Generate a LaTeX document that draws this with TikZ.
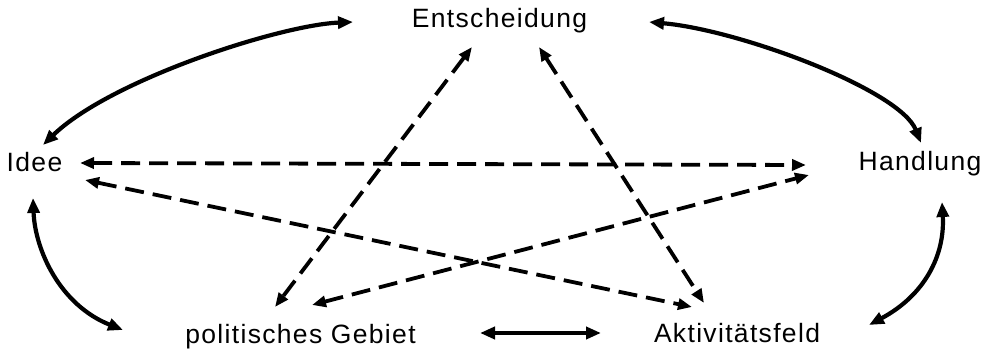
\documentclass[tikz,border=0pt]{standalone}
\usepackage{fontspec}
\setmainfont[LetterSpace=5]{Liberation Sans}
\usetikzlibrary{arrows.meta,calc}
\begin{document}
\begin{tikzpicture}[x=1pt,y=-1pt,
  lbl/.style={anchor=base,inner sep=0pt,font=\fontsize{26.5}{30}\selectfont},
  solidarr/.style={line width=4.2pt,{Triangle[length=15pt,width=12pt]}-{Triangle[length=15pt,width=12pt]}},
  dasharr/.style={line width=3.8pt,dash pattern=on 19pt off 9pt,{Triangle[length=14pt,width=11pt]}-{Triangle[length=14pt,width=11pt]}}]
\useasboundingbox (0,0) rectangle (989,350);
\node[lbl] (ent) at (499.5,28) {Entscheidung};
\node[lbl] (idee) at (34.5,172) {Idee};
\node[lbl] (hand) at (920,171) {Handlung};
\node[lbl] (pol) at (300.5,343) {politisches Gebiet};
\node[lbl] (akt) at (737,342) {Aktivitätsfeld};
% solid curved arrows
\draw[solidarr] ($(idee.base)+(8.5,-27)$) .. controls +(67,-65) and +(-73,3) .. ($(ent.base)+(-146.5,-6)$);
\draw[solidarr] ($(ent.base)+(149.5,-6)$) .. controls +(91,8) and +(-21,-53) .. ($(hand.base)+(1,-28)$);
\draw[solidarr] ($(idee.base)+(-1.5,26)$) .. controls +(2,52) and +(-63,-25) .. ($(pol.base)+(-177.5,-13)$);
\draw[solidarr] ($(hand.base)+(22,31)$) .. controls +(3,53) and +(56,-30) .. ($(akt.base)+(132,-17)$);
\draw[solidarr] ($(pol.base)+(179.5,-10)$) -- ($(akt.base)+(-136,-9)$);
% dashed arrows
\draw[dasharr] ($(idee.base)+(45.5,-9)$) -- ($(hand.base)+(-114,-6)$);
\draw[dasharr] ($(idee.base)+(50.5,8)$) -- ($(akt.base)+(-45,-35)$);
\draw[dasharr] ($(ent.base)+(-27.5,19)$) -- ($(pol.base)+(-25.5,-36)$);
\draw[dasharr] ($(ent.base)+(39.5,19)$) -- ($(akt.base)+(-33,-39)$);
\draw[dasharr] ($(pol.base)+(11.5,-38)$) -- ($(hand.base)+(-111,4)$);
\end{tikzpicture}
\end{document}
